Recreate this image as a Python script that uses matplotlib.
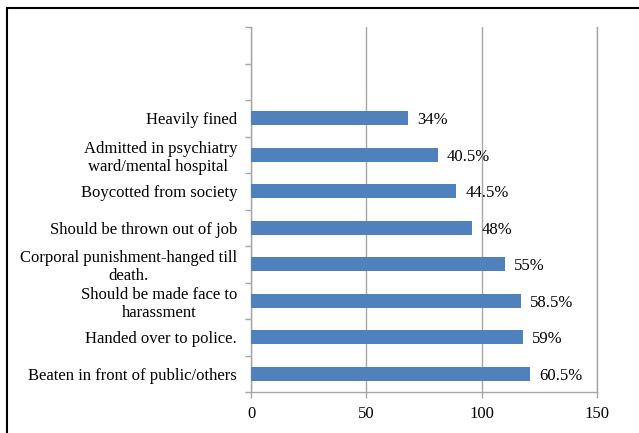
import matplotlib
matplotlib.use("Agg")
import matplotlib.pyplot as plt
from matplotlib.patches import Rectangle

# Responses (bottom to top); two empty slots sit above the last category
categories = [
    "Beaten in front of public/others",
    "Handed over to police.",
    "Should be made face to\nharassment",
    "Corporal punishment-hanged till\ndeath.",
    "Should be thrown out of job",
    "Boycotted from society",
    "Admitted in psychiatry\nward/mental hospital ",
    "Heavily fined",
    "",
    "",
]
counts = [121, 118, 117, 110, 96, 89, 81, 68, None, None]
percent_labels = ["60.5%", "59%", "58.5%", "55%", "48%", "44.5%", "40.5%", "34%", "", ""]
x_ticks = [0, 50, 100, 150]

plt.rcParams["font.family"] = ["Liberation Serif", "DejaVu Serif"]
FS = 12
GRID = "#A6A6A6"

W, H, DPI = 639, 433, 100
fig = plt.figure(figsize=(W / DPI, H / DPI), dpi=DPI)

# outer frame (left and top edges visible)
fig.add_artist(Rectangle((7 / W, -0.05), 1.2, 1 - 7.5 / H + 0.05,
                         transform=fig.transFigure, fill=False,
                         edgecolor="black", linewidth=1.5))

left, right, top, bottom = 251, 597, 27, 392
ax = fig.add_axes([left / W, 1 - bottom / H, (right - left) / W, (bottom - top) / H])

ypos = list(range(len(categories)))
for y, v, lab in zip(ypos, counts, percent_labels):
    if v is None:
        continue
    ax.barh(y, v, height=0.39, color="#4F81BD", zorder=3)
    ax.text(v + 4, y, lab, va="center_baseline", ha="left", fontsize=FS, color="black")

ax.set_ylim(-0.5, len(categories) - 0.5)
ax.set_xlim(0, 150)
ax.set_xticks(x_ticks)
ax.set_yticks(ypos)
ax.set_yticklabels(categories, fontsize=FS)
for t in ax.get_yticklabels():
    t.set_multialignment("center")
    t.set_linespacing(1.18)
ax.set_yticks([i - 0.5 for i in range(len(categories) + 1)], minor=True)
ax.tick_params(axis="y", which="major", length=0, pad=10)
ax.tick_params(axis="y", which="minor", length=4, color=GRID, width=1)
ax.tick_params(axis="x", length=4, color=GRID, width=1, labelsize=FS, pad=6)

ax.grid(axis="x", color=GRID, linewidth=1, zorder=0)
ax.axvline(150, color=GRID, linewidth=1, zorder=0, clip_on=False)
for s in ["top", "right"]:
    ax.spines[s].set_visible(False)
for s in ["left", "bottom"]:
    ax.spines[s].set_color(GRID)
    ax.spines[s].set_linewidth(1)

fig.savefig("out.png", dpi=DPI)
